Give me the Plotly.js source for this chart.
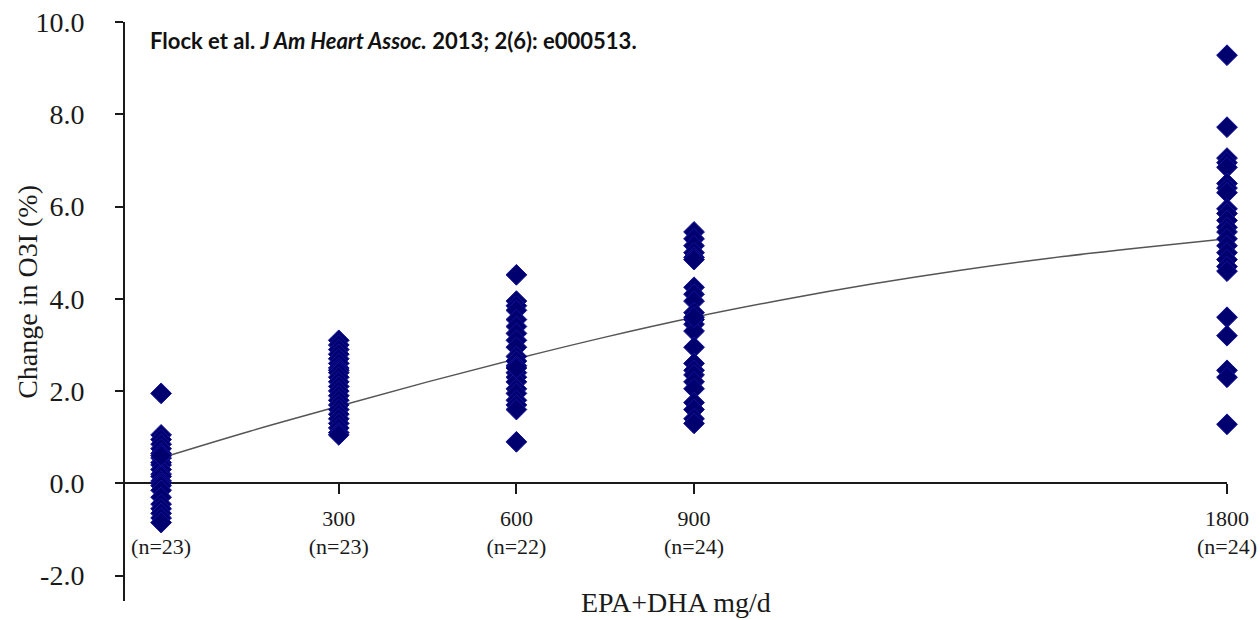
<!DOCTYPE html>
<html>
<head>
<meta charset="utf-8">
<script src="https://cdn.plot.ly/plotly-3.0.1.min.js"></script>
<style>
  html, body { margin: 0; padding: 0; background: #ffffff; }
  #chart { width: 1260px; height: 620px; }
</style>
</head>
<body>
<div id="chart"></div>
<script>
// ---- data ----
const doses = [0, 300, 600, 900, 1800];
const groupSizes = ['(n=23)', '(n=23)', '(n=22)', '(n=24)', '(n=24)'];
const doseLabels = ['\u00a0', '300', '600', '900', '1800'];

const change0 = [1.95, 1.05, 0.95, 0.85, 0.75, 0.65, 0.55, 0.45, 0.40, 0.30, 0.20, 0.15,
                 0.05, 0.00, -0.05, -0.15, -0.30, -0.45, -0.55, -0.65, -0.75, -0.85, 0.60];
const change300 = [3.10, 3.00, 2.90, 2.80, 2.70, 2.60, 2.50, 2.45, 2.40, 2.30, 2.20, 2.10,
                   2.00, 1.90, 1.80, 1.70, 1.60, 1.50, 1.40, 1.30, 1.20, 1.10, 1.05];
const change600 = [4.52, 3.95, 3.85, 3.75, 3.55, 3.40, 3.25, 3.10, 2.95, 2.75, 2.65,
                   2.55, 2.40, 2.30, 2.20, 2.05, 1.95, 1.80, 1.70, 1.60, 2.50, 0.90];
const change900 = [5.45, 5.30, 5.15, 5.00, 4.90, 4.25, 4.10, 3.95, 3.70, 3.55, 3.45, 3.30,
                   2.95, 2.60, 2.45, 2.35, 2.20, 2.05, 1.75, 1.60, 1.40, 1.30, 3.60, 4.85];
const change1800 = [9.28, 7.72, 7.05, 6.95, 6.85, 6.50, 6.40, 6.30, 5.95, 5.85, 5.70, 5.55,
                    5.45, 5.30, 5.15, 5.00, 4.85, 4.70, 4.60, 3.60, 3.20, 2.45, 2.30, 1.28];

const fitDose   = [0, 150, 300, 450, 600, 750, 900, 1050, 1200, 1350, 1500, 1650, 1800];
const fitChange = [0.55, 1.13, 1.67, 2.20, 2.70, 3.17, 3.60, 3.98, 4.32, 4.62, 4.88, 5.10, 5.30];

const yTicks = [-2, 0, 2, 4, 6, 8, 10];
const yTickText = ['-2.0', '0.0', '2.0', '4.0', '6.0', '8.0', '10.0'];

// ---- build traces ----
const groups = [change0, change300, change600, change900, change1800];
const ptX = [], ptY = [];
groups.forEach((vals, i) => vals.forEach(v => { ptX.push(doses[i]); ptY.push(v); }));

const serif = 'Liberation Serif, Times New Roman, serif';
const yRange = [-2.55, 10];

const traces = [
  {
    type: 'scatter', mode: 'lines', x: fitDose, y: fitChange,
    line: { color: '#555555', width: 1.5, shape: 'spline' },
    hoverinfo: 'skip', showlegend: false
  },
  {
    type: 'scatter', mode: 'markers', x: ptX, y: ptY,
    marker: { symbol: 'diamond', size: 16, color: '#00006e',
              line: { color: '#12129a', width: 1 } },
    cliponaxis: false, showlegend: false
  }
];

const layout = {
  width: 1260, height: 620,
  margin: { l: 125, r: 33, t: 22, b: 19 },
  paper_bgcolor: '#ffffff', plot_bgcolor: '#ffffff',
  showlegend: false,
  font: { family: serif, color: '#1a1a1a' },
  xaxis: {
    range: [-61, 1800],
    anchor: 'free',
    position: (0 - yRange[0]) / (yRange[1] - yRange[0]),
    showline: true, linecolor: '#1a1a1a', linewidth: 2,
    ticks: 'outside', ticklen: 10, tickwidth: 2, tickcolor: '#1a1a1a',
    ticklabelstandoff: 5,
    tickvals: doses,
    ticktext: doses.map((d, i) => doseLabels[i] + '<br>' + groupSizes[i]),
    tickfont: { family: serif, size: 22, color: '#1a1a1a' },
    showgrid: false, zeroline: false, layer: 'below traces'
  },
  yaxis: {
    range: yRange,
    showline: true, linecolor: '#1a1a1a', linewidth: 2,
    ticks: 'outside', ticklen: 8, tickwidth: 2, tickcolor: '#1a1a1a',
    ticklabelstandoff: 25,
    tickvals: yTicks, ticktext: yTickText,
    tickfont: { family: serif, size: 28, color: '#1a1a1a' },
    showgrid: false, zeroline: false, layer: 'below traces'
  },
  annotations: [
    {
      text: 'Change in O3I (%)', textangle: -90,
      xref: 'paper', yref: 'paper', x: -0.088, y: 0.534,
      xanchor: 'center', yanchor: 'middle', showarrow: false,
      font: { family: serif, size: 28, color: '#1a1a1a' }
    },
    {
      text: 'EPA+DHA mg/d',
      xref: 'paper', yref: 'paper', x: 0.5, y: 0,
      xanchor: 'center', yanchor: 'bottom', yshift: -19, showarrow: false,
      font: { family: serif, size: 28, color: '#1a1a1a' }
    },
    {
      text: '<b>Flock et al. <i>J Am Heart Assoc.</i> 2013; 2(6): e000513.</b>',
      xref: 'paper', yref: 'paper', x: 0.021, y: 0.968,
      xanchor: 'left', yanchor: 'middle', showarrow: false,
      font: { family: 'Lato, Open Sans, sans-serif', size: 22, color: '#111111' }
    }
  ]
};

Plotly.newPlot('chart', traces, layout, { displayModeBar: false, staticPlot: true });
</script>
</body>
</html>
